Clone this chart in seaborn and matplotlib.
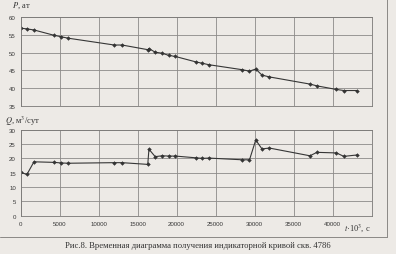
import matplotlib
matplotlib.use("Agg")
import matplotlib.pyplot as plt
from matplotlib.lines import Line2D
import seaborn as sns
import pandas as pd

# time, s (x 10^3)
t = [0, 800, 1700, 4300, 5200, 6100, 12000, 13000, 16300, 16450, 17250, 18150,
     19000, 19850, 22450, 23300, 24150, 28450, 29350, 30150, 30950, 31900,
     37100, 38000, 40500, 41450, 43200]
# pressure P, at
p = [56.8, 56.6, 56.3, 54.8, 54.4, 54.0, 52.1, 52.1, 50.8, 51.1, 50.1, 49.8,
     49.2, 48.9, 47.4, 47.0, 46.6, 45.2, 44.8, 45.4, 43.7, 43.2,
     41.2, 40.7, 39.7, 39.4, 39.4]
# flow rate Q, m3/day
q = [15.1, 14.4, 18.8, 18.6, 18.4, 18.3, 18.5, 18.5, 17.9, 23.2, 20.6, 20.9,
     20.8, 20.8, 20.2, 20.0, 20.1, 19.5, 19.5, 26.4, 23.3, 23.6,
     20.9, 22.1, 21.9, 20.7, 21.2]

x_ticks = [0, 5000, 10000, 15000, 20000, 25000, 30000, 35000, 40000]
p_ticks = [35, 40, 45, 50, 55, 60]
q_ticks = [0, 5, 10, 15, 20, 25, 30]

df = pd.DataFrame({"t": t, "P": p, "Q": q})

bg = "#edeae6"
sns.set_style("white", {"axes.facecolor": bg, "figure.facecolor": bg})
plt.rcParams["font.family"] = ["Liberation Sans", "DejaVu Sans"]
plt.rcParams["mathtext.fontset"] = "stix"

fig = plt.figure(figsize=(3.96, 2.55), dpi=100)
fig.patch.set_facecolor(bg)

W, H = 396, 255
def rect(l, top, r, bot):
    return [l / W, 1 - bot / H, (r - l) / W, (bot - top) / H]

ax1 = fig.add_axes(rect(20.7, 17.7, 371.5, 107.3))
ax2 = fig.add_axes(rect(20.7, 130.7, 371.5, 216.7))

line_kw = dict(color="#363636", linewidth=0.8, marker="D", markersize=1.9,
               markeredgewidth=0.3, markeredgecolor="#2a2a2a")

sns.lineplot(data=df, x="t", y="P", ax=ax1, **line_kw)
sns.lineplot(data=df, x="t", y="Q", ax=ax2, **line_kw)

for ax, yt in ((ax1, p_ticks), (ax2, q_ticks)):
    ax.set_xlim(0, 45000)
    ax.set_ylim(yt[0], yt[-1])
    ax.set_xticks(x_ticks + [45000])
    ax.set_yticks(yt)
    ax.grid(True, color="#8c8a88", linewidth=0.6)
    ax.set_facecolor(bg)
    for s in ax.spines.values():
        s.set_color("#7a7876")
        s.set_linewidth(0.6)
    ax.set_xlabel("")
    ax.set_ylabel("")
    ax.tick_params(axis="both", labelsize=4.4, length=2, width=0.6,
                   color="#555555", labelcolor="#383838", pad=1.5)

ax1.tick_params(axis="x", labelbottom=False, length=0)
ax2.set_xticklabels([str(v) for v in x_ticks] + [""])
ax2.tick_params(axis="x", length=0, pad=4)

serif = ["Liberation Serif", "DejaVu Serif"]
fig.text(12 / W, 1 - 6 / H, "$\\mathit{P}$, ат", fontsize=6, family=serif,
         color="#333333", va="center", ha="left")
fig.text(5 / W, 1 - 121 / H, "$\\mathit{Q}$, м$^3$/сут", fontsize=6, family=serif,
         color="#333333", va="center", ha="left")
fig.text(344 / W, 1 - 228 / H, "$\\mathit{t}$·10$^3$, с", fontsize=6, family=serif,
         color="#333333", va="center", ha="left")
fig.text(198 / W, 1 - 246 / H,
         "Рис.8. Временная диаграмма получения индикаторной кривой скв. 4786",
         fontsize=6.2, family=serif, color="#333333", va="center", ha="center")

# frame of the figure box
fig.add_artist(Line2D([0, 387 / W], [1 - 238 / H, 1 - 238 / H],
                      transform=fig.transFigure, color="#8a8886", linewidth=0.7))
fig.add_artist(Line2D([387 / W, 387 / W], [1 - 238 / H, 1],
                      transform=fig.transFigure, color="#8a8886", linewidth=0.7))

fig.savefig("out.png", dpi=100, facecolor=bg)
